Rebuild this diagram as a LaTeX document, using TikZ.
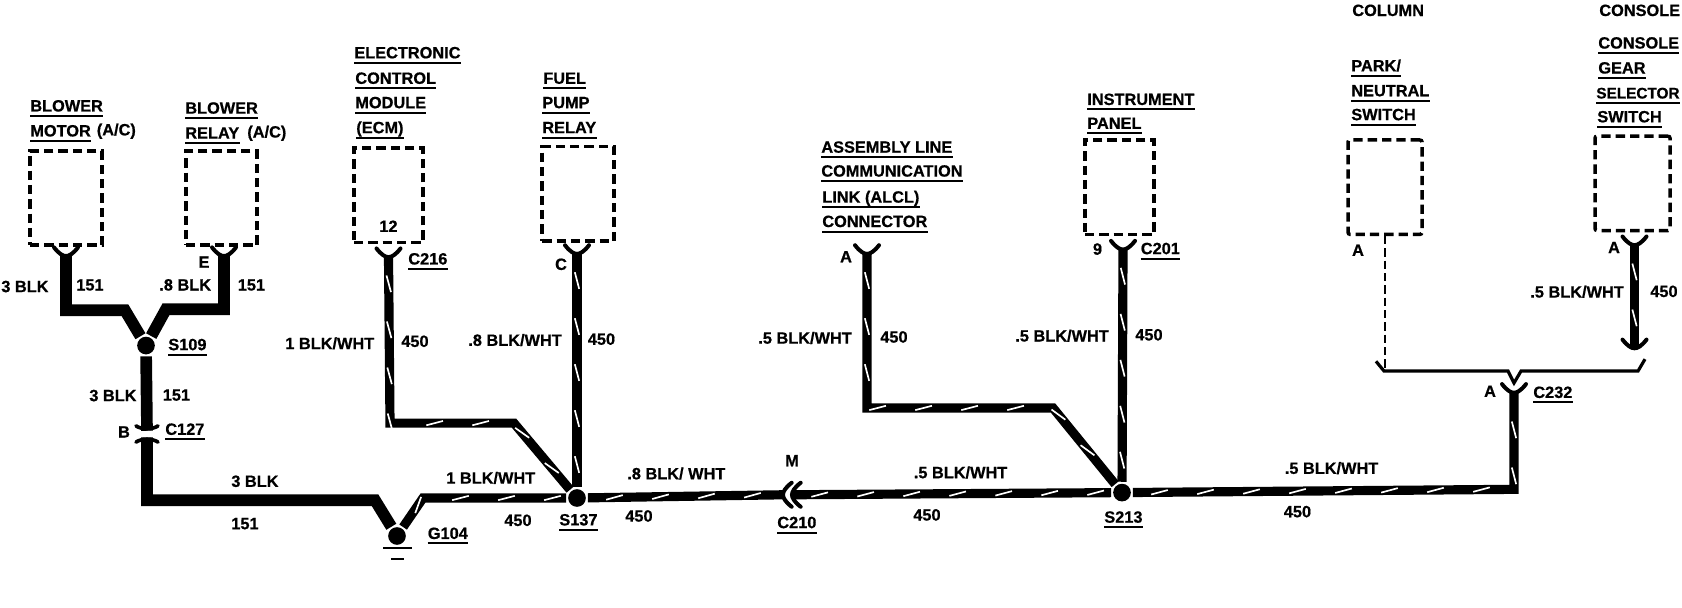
\documentclass[tikz,border=0pt]{standalone}
\usepackage{fontspec}
\setmainfont[BoldFeatures={FakeBold=0.7}]{Liberation Sans}
\usetikzlibrary{decorations.markings}
\tikzset{
  x=0.6pt,y=-0.651pt,
  lbl/.style={anchor=west,inner xsep=0pt,inner ysep=0pt,text height=7.5pt,text depth=0pt,
    font=\fontsize{9.8}{10}\selectfont\bfseries},
  ulline/.style={draw=black,line width=1.2pt},
  ulbl/.style={lbl,inner ysep=2.5pt,append after command={(\tikzlastnode.south west) edge[ulline] (\tikzlastnode.south east)}},
  clbl/.style={lbl,anchor=center},
  ebox/.style={draw=black,line width=2.1pt,inner sep=0pt,minimum height=56.6pt,dash pattern=on 5.6pt off 3pt},
  wdot/.style={circle,fill=black,inner sep=0pt,minimum size=10.6pt,outer sep=1.2pt},
  solidw/.style={draw=black,line width=7pt},
  twistw/.style={draw=black,line width=5.5pt,postaction={decorate,decoration={markings,
    mark=between positions 16pt and -6pt step 27.6pt with {\draw[white,line width=1pt] (-5pt,-1.3pt)--(5pt,1.3pt);}}}},
  busline/.style={draw=black,line width=1.9pt},
  dashw/.style={draw=black,line width=1.2pt,dash pattern=on 5pt off 2.4pt},
  gbar/.style={draw=black,line width=1.3pt},
  forkpin/.pic={\draw[line width=2.4pt,line cap=round] (-12,-8) .. controls (-7,-2) and (-3,0) .. (0,0) .. controls (3,0) and (7,-2) .. (12,-8);},
  flatpin/.pic={\draw[line width=2.2pt,line cap=round] (-11,-4.5) .. controls (-6,-1) and (6,-1) .. (11,-4.5);},
}
\begin{document}
\begin{tikzpicture}
\useasboundingbox (0,0) rectangle (1682,560.3);
% boxes
\node[ebox,minimum width=43.2pt] (bm) at (66,182.5) {};
\node[ebox,minimum width=42.6pt] (br) at (221.5,182.5) {};
\node[ebox,minimum width=41.4pt] (ecm) at (388.5,180) {};
\node[ebox,minimum width=43pt] (fp) at (578,178.5) {};
\node[ebox,minimum width=41.4pt] (ip) at (1119.5,172.5) {};
\node[ebox,minimum width=44.4pt,rounded corners=1.2pt] (pk) at (1385,172.5) {};
\node[ebox,minimum width=45pt,rounded corners=1.2pt] (cs) at (1632.5,169) {};
% splices and ground
\node[wdot] (s109) at (146,318.5) {};
\node[wdot] (g104) at (397,494) {};
\node[wdot] (s137) at (577,459) {};
\node[wdot] (s213) at (1122,454) {};
% connector pins
\coordinate (f1) at (66,236);
\coordinate (f2) at (224,236);
\coordinate (f3) at (388.5,237);
\coordinate (f4) at (577,234);
\coordinate (f5) at (867,234);
\coordinate (f6) at (1123,230);
\coordinate (f7) at (1634.5,226);
\coordinate (f7b) at (1634.5,321);
\coordinate (f8) at (1514,362);
\coordinate (c127a) at (147,397);
\coordinate (c127b) at (147,403);
\coordinate (c210a) at (783,456);
\coordinate (c210b) at (792,456);
\coordinate (c210l) at (784,456);
\coordinate (c210r) at (793,456);
\foreach \c in {f1,f2,f3,f4,f5,f6,f7,f7b,f8} {\pic at (\c) {forkpin};}
\pic at (c127a) {flatpin};
\pic[rotate=180] at (c127b) {flatpin};
\pic[rotate=-90] at (c210a) {forkpin};
\pic[rotate=-90] at (c210b) {forkpin};
% wire bends
\coordinate (w1a) at (66,286);
\coordinate (w1b) at (125,286);
\coordinate (w2a) at (224,285);
\coordinate (w2b) at (166,285);
\coordinate (w3) at (147,461);
\coordinate (w4) at (375,461);
\coordinate (w5) at (423,459);
\coordinate (w6a) at (390,390);
\coordinate (w6b) at (514,390);
\coordinate (w7a) at (867,376);
\coordinate (w7b) at (1053,376);
\coordinate (w8) at (1514,451);
% solid wires
\draw[solidw] (f1) -- (w1a) -- (w1b) -- (s109);
\draw[solidw] (f2) -- (w2a) -- (w2b) -- (s109);
\draw[solidw] (s109) -- (c127a);
\draw[solidw] (c127b) -- (w3) -- (w4) -- (g104);
% twisted wires
\draw[twistw] (g104) -- (w5) -- (s137);
\draw[twistw] (f3) -- (w6a) -- (w6b) -- (s137);
\draw[twistw] (f4) -- (s137);
\draw[twistw] (s137) -- (c210l);
\draw[twistw] (c210r) -- (s213);
\draw[twistw] (f5) -- (w7a) -- (w7b) -- (s213);
\draw[twistw] (f6) -- (s213);
\draw[twistw] (s213) -- (w8) -- (f8);
\draw[twistw] (f7) -- (f7b);
% bus above C232
\coordinate (b1) at (1376,333);
\coordinate (b2) at (1384,342);
\coordinate (b3) at (1508,342);
\coordinate (b4) at (1514,353);
\coordinate (b5) at (1521,342);
\coordinate (b6) at (1638,342);
\coordinate (b7) at (1645,331);
\draw[busline] (b1) -- (b2) -- (b3) -- (b4) -- (b5) -- (b6) -- (b7);
\draw[dashw] (pk.south) -- (pk.south |- b2);
% ground bars
\coordinate (grda) at (383,505);
\coordinate (grdb) at (412,505);
\coordinate (grdc) at (391,515);
\coordinate (grdd) at (404,515);
\draw[gbar] (grda) -- (grdb);
\draw[gbar] (grdc) -- (grdd);
% component titles
\node[ulbl] (t1) at (30,97) {BLOWER};
\node[ulbl] (t2) at (30,120) {MOTOR};
\node[lbl] (t3) at (96.5,119) {(A/C)};
\node[ulbl] (t4) at (185,99) {BLOWER};
\node[ulbl] (t5) at (185,122) {RELAY};
\node[lbl] (t6) at (247,121) {(A/C)};
\node[ulbl] (t7) at (354,48) {ELECTRONIC};
\node[ulbl] (t8) at (355,71.5) {CONTROL};
\node[ulbl] (t9) at (355,94) {MODULE};
\node[ulbl] (t10) at (356,117) {(ECM)};
\node[ulbl] (t11) at (543,71.5) {FUEL};
\node[ulbl] (t12) at (542,94) {PUMP};
\node[ulbl] (t13) at (542,117) {RELAY};
\node[ulbl] (t14) at (821,135) {ASSEMBLY LINE};
\node[ulbl] (t15) at (821,157) {COMMUNICATION};
\node[ulbl] (t16) at (822,181) {LINK (ALCL)};
\node[ulbl] (t17) at (822,203.5) {CONNECTOR};
\node[ulbl] (t18) at (1087,91) {INSTRUMENT};
\node[ulbl] (t19) at (1087,113) {PANEL};
\node[lbl] (t20) at (1352,9) {COLUMN};
\node[lbl] (t21) at (1599,9) {CONSOLE};
\node[ulbl] (t22) at (1351,60) {PARK/};
\node[ulbl] (t23) at (1351,83) {NEUTRAL};
\node[ulbl] (t24) at (1351,105) {SWITCH};
\node[ulbl] (t25) at (1598,39) {CONSOLE};
\node[ulbl] (t26) at (1598,62) {GEAR};
\node[ulbl,font=\fontsize{9.2}{10}\selectfont\bfseries] (t27) at (1596,85) {SELECTOR};
\node[ulbl] (t28) at (1597,107) {SWITCH};
% wire labels
\node[lbl] (a1) at (1,263.5) {3 BLK};
\node[lbl] (a2) at (76,262) {151};
\node[clbl] (a3) at (204,241) {E};
\node[lbl] (a4) at (159,262) {.8 BLK};
\node[lbl] (a5) at (237.5,262) {151};
\node[ulbl] (a6) at (168,317) {S109};
\node[lbl] (a7) at (89,364) {3 BLK};
\node[lbl] (a8) at (162.5,363.5) {151};
\node[clbl] (a9) at (124,397.5) {B};
\node[ulbl] (a10) at (165,395) {C127};
\node[lbl] (a11) at (231,443) {3 BLK};
\node[lbl] (a12) at (231,482) {151};
\node[lbl] (a13) at (446,440) {1 BLK/WHT};
\node[lbl] (a14) at (504,479) {450};
\node[ulbl] (a15) at (427.5,491) {G104};
\node[clbl] (a16) at (388.5,208) {12};
\node[ulbl] (a17) at (408,238) {C216};
\node[lbl] (a18) at (285,316) {1 BLK/WHT};
\node[lbl] (a19) at (401,314) {450};
\node[lbl] (a20) at (468,313) {.8 BLK/WHT};
\node[clbl] (a21) at (561,243) {C};
\node[lbl] (a22) at (587.5,312) {450};
\node[lbl] (a23) at (627,436) {.8 BLK/ WHT};
\node[lbl] (a24) at (625,475) {450};
\node[clbl] (a25) at (792,424) {M};
\node[ulbl] (a26) at (777,481) {C210};
\node[lbl] (a27) at (913.5,435) {.5 BLK/WHT};
\node[lbl] (a28) at (913,474) {450};
\node[ulbl] (a29) at (559,478.5) {S137};
\node[lbl] (a30) at (758,311) {.5 BLK/WHT};
\node[lbl] (a31) at (880,310) {450};
\node[clbl] (a32) at (846,236) {A};
\node[lbl] (a33) at (1015,309) {.5 BLK/WHT};
\node[lbl] (a34) at (1135,308) {450};
\node[clbl] (a35) at (1097.5,229) {9};
\node[ulbl] (a36) at (1140.5,228.5) {C201};
\node[ulbl] (a37) at (1104,476) {S213};
\node[lbl] (a38) at (1284.5,431) {.5 BLK/WHT};
\node[lbl] (a39) at (1283.5,471) {450};
\node[clbl] (a40) at (1358,230) {A};
\node[clbl] (a41) at (1614,227.5) {A};
\node[lbl] (a42) at (1530,268.5) {.5 BLK/WHT};
\node[lbl] (a43) at (1650,268) {450};
\node[clbl] (a44) at (1490,360) {A};
\node[ulbl] (a45) at (1533,361) {C232};
\end{tikzpicture}
\end{document}
